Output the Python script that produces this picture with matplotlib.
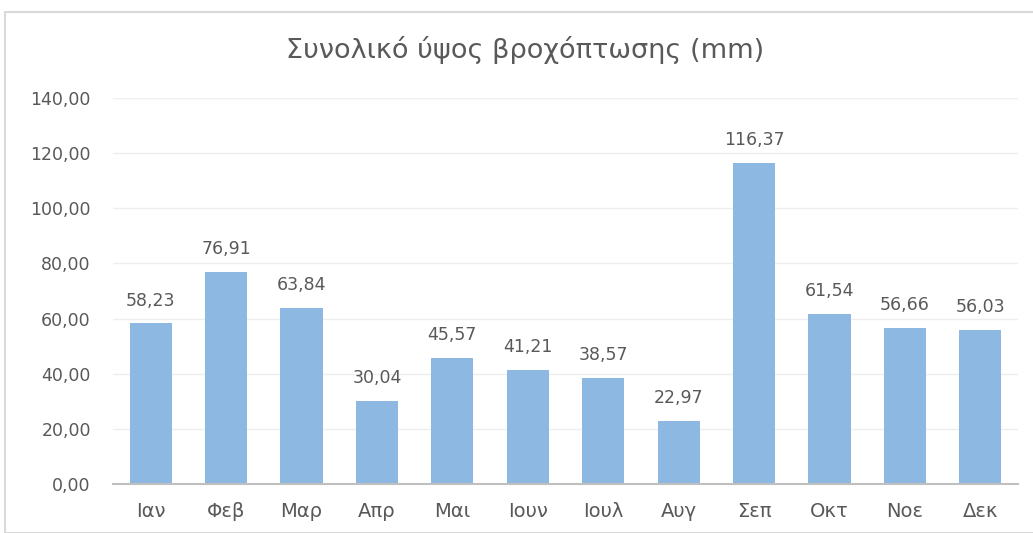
import matplotlib.pyplot as plt
from matplotlib.patches import Rectangle

months = ["Ιαν", "Φεβ", "Μαρ", "Απρ", "Μαι", "Ιουν", "Ιουλ", "Αυγ", "Σεπ", "Οκτ", "Νοε", "Δεκ"]
rainfall = [58.23, 76.91, 63.84, 30.04, 45.57, 41.21, 38.57, 22.97, 116.37, 61.54, 56.66, 56.03]
y_ticks = [0, 20, 40, 60, 80, 100, 120, 140]

text_color = "#595959"
bar_color = "#8db8e2"


def gr(value):
    return f"{value:.2f}".replace(".", ",")


fig = plt.figure(figsize=(10.33, 5.33), dpi=100)
fig.patches.append(Rectangle((5 / 1033, 0), 1.1, (533 - 12) / 533,
                             transform=fig.transFigure, fill=False,
                             edgecolor="#d9d9d9", linewidth=1.5))

ax = fig.add_axes([113 / 1033, 49 / 533, (1018 - 113) / 1033, (484 - 98) / 533])

x = range(len(months))
bars = ax.bar(x, rainfall, width=0.56, color=bar_color, zorder=2)

for rect, value in zip(bars, rainfall):
    ax.annotate(gr(value), (rect.get_x() + rect.get_width() / 2, value),
                xytext=(0, 10), textcoords="offset points",
                ha="center", va="bottom", fontsize=12.5, color=text_color)

ax.set_xlim(-0.5, len(months) - 0.5)
ax.set_ylim(0, 140)
ax.set_yticks(y_ticks)
ax.set_yticklabels([gr(v) for v in y_ticks])
ax.set_xticks(list(x))
ax.set_xticklabels(months)

ax.grid(axis="y", color="#eeeeee", linewidth=1, zorder=0)
for side in ["top", "right", "left"]:
    ax.spines[side].set_visible(False)
ax.spines["bottom"].set_color("#bfbfbf")
ax.spines["bottom"].set_linewidth(1.5)
ax.spines["bottom"].set_zorder(3)

ax.tick_params(axis="both", length=0, colors=text_color)
ax.tick_params(axis="y", pad=16, labelsize=12.5)
ax.tick_params(axis="x", pad=13, labelsize=14)

fig.text(525 / 1033, 1 - 50 / 533, "Συνολικό ύψος βροχόπτωσης (mm)",
         ha="center", va="center", fontsize=19.5, color=text_color)

fig.savefig("out.png", dpi=100)
